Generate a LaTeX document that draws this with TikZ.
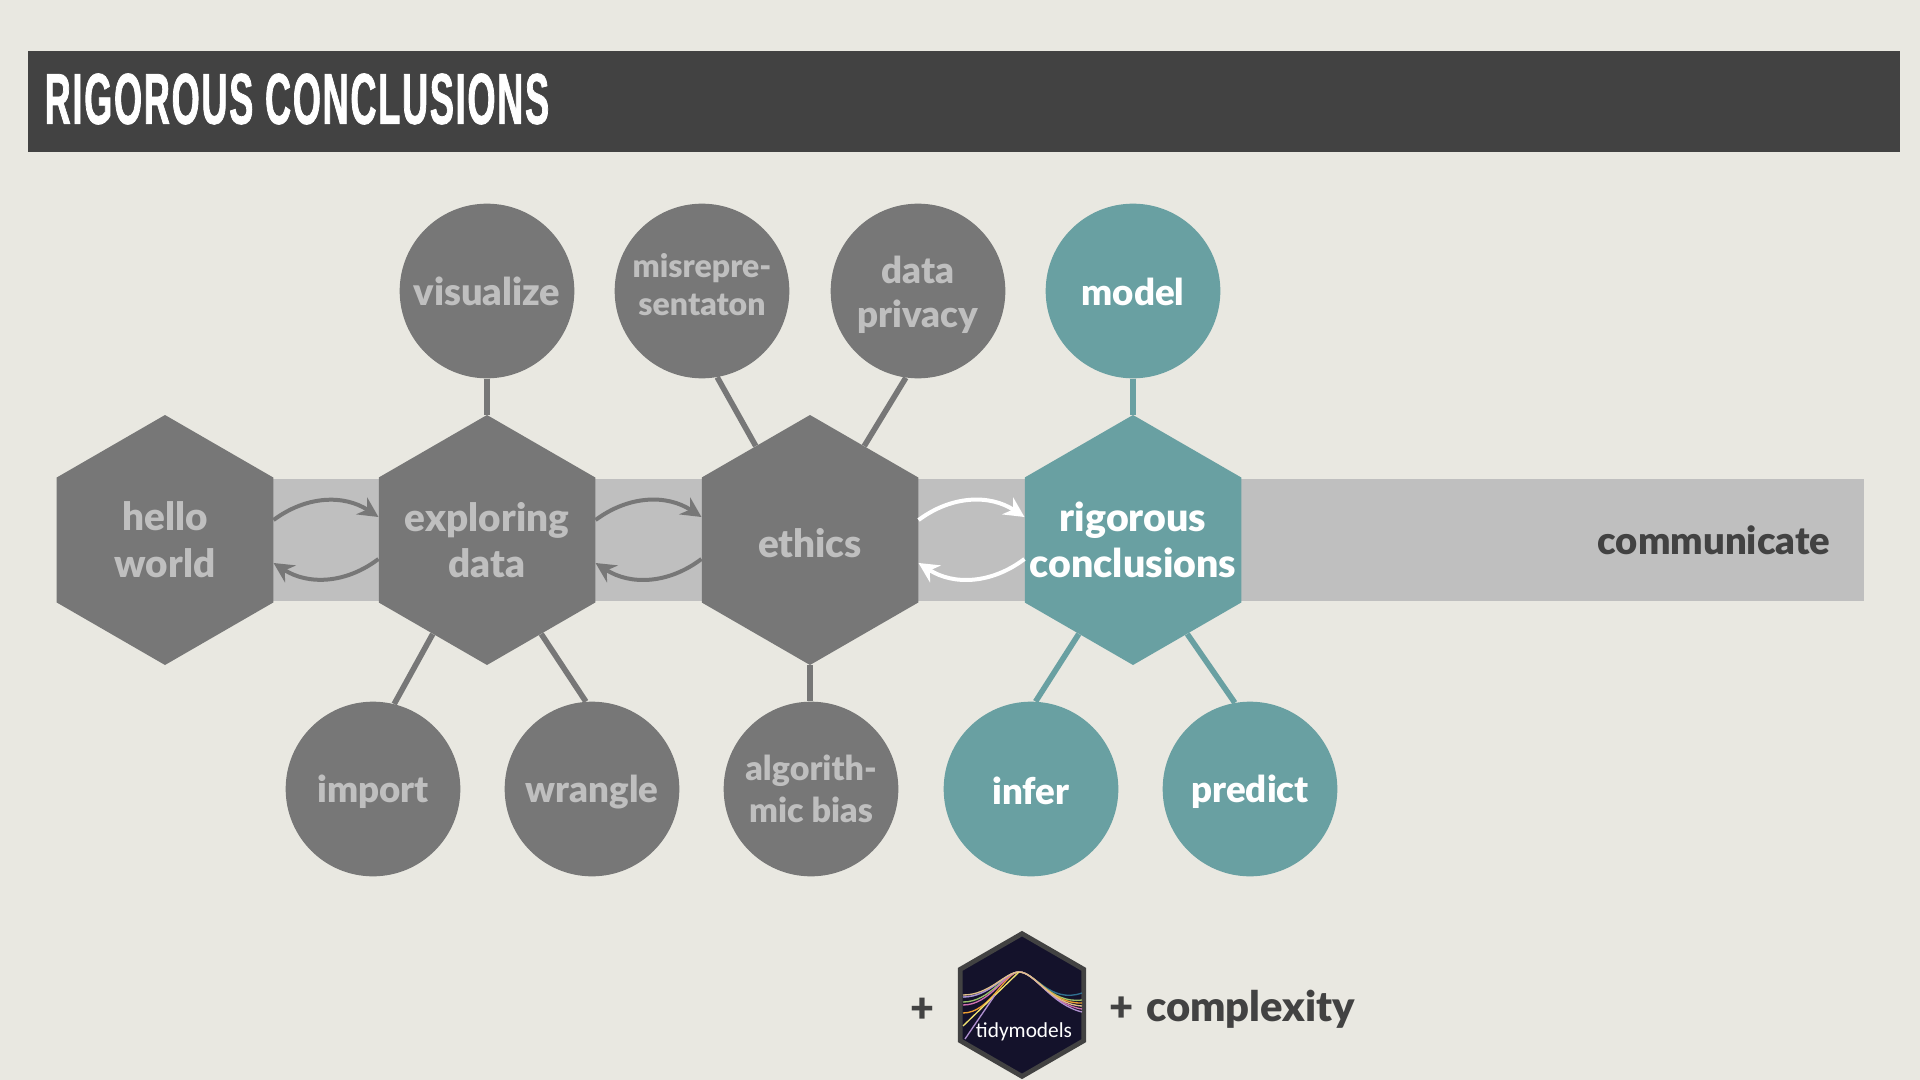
\documentclass[tikz,border=0pt]{standalone}
\usepackage{fontspec}
\setmainfont{Lato}[BoldFont={Lato Black}]
\newfontfamily\headfont[FakeStretch=0.5,LetterSpace=2.5,FakeBold=1]{Liberation Sans}
\newfontfamily\logofont{Carlito}
\usepackage{tikz}
\usetikzlibrary{shapes.geometric,arrows.meta,calc}
\definecolor{paper}{HTML}{E9E8E1}
\definecolor{slate}{HTML}{424242}
\definecolor{hexgray}{HTML}{777777}
\definecolor{bandgray}{HTML}{BFBFBF}
\definecolor{teal}{HTML}{69A0A2}
\definecolor{logonavy}{HTML}{14122B}
\definecolor{logotan}{HTML}{E0C08A}
\definecolor{logogreen}{HTML}{9AC26A}
\definecolor{logoblue}{HTML}{2F6F8F}
\definecolor{logoorange}{HTML}{F0A030}
\definecolor{logopink}{HTML}{D070B0}
\definecolor{logoviolet}{HTML}{B090D0}
\definecolor{logoyellow}{HTML}{EEE070}
\newcommand{\hexline}[1]{\makebox[0pt]{#1}}
\tikzset{
  hexnode/.style={regular polygon,regular polygon sides=6,shape border rotate=30,minimum size=187.5pt,inner sep=0pt,fill=hexgray,text=bandgray,align=center,font=\bfseries\fontsize{29}{35}\selectfont,execute at begin node={\rule{0pt}{26pt}}},
  bubble/.style={circle,minimum size=131pt,inner sep=0pt,fill=hexgray,text=bandgray,align=center,font=\bfseries\fontsize{27.5}{33}\selectfont},
  oneline/.style={execute at begin node={\rule[-2.5pt]{0pt}{27.5pt}}},
  active/.style={fill=teal,text=white},
  spoke/.style={draw=hexgray,line width=4.2pt},
  swing/.style={line width=3pt,-{Stealth[length=15pt,width=15pt]}},
}
\begin{document}
\begin{tikzpicture}[x=0.75pt,y=-0.75pt]
\useasboundingbox (0,0) rectangle (1920,1080);
\fill[paper] (0,0) rectangle (1920,1080);
\fill[slate] (28,51) rectangle (1900,152);
\node[anchor=west,text=white,font=\headfont\bfseries\fontsize{54}{60}\selectfont] (title) at (40,99) {RIGOROUS CONCLUSIONS};
\fill[bandgray] (273,479) rectangle (1864,601);
\node[text=slate,font=\bfseries\fontsize{28.7}{34}\selectfont] (communicate) at (1714,540) {communicate};
% main row
\node[hexnode] (hello) at (165,540) {hello\\world};
\node[hexnode] (exploring) at (487,540) {\hexline{exploring}\\\hexline{data}};
\node[hexnode] (ethics) at (810,540) {ethics};
\node[hexnode,active,font=\bfseries\fontsize{29.5}{35}\selectfont] (rigorous) at (1133,540) {\hexline{rigorous}\\\hexline{conclusions}};
% topics
\node[bubble,oneline,font=\bfseries\fontsize{28.5}{33}\selectfont] (visualize) at (487,291) {visualize};
\node[bubble,font=\bfseries\fontsize{24}{29}\selectfont] (misrepre) at (702,291) {misrepre-\\sentaton\rule[-10pt]{0pt}{0pt}};
\node[bubble] (privacy) at (918,291) {\rule{0pt}{26pt}data\\privacy};
\node[bubble,active,oneline] (model) at (1133,291) {model};
\node[bubble,oneline] (import) at (373,789) {import};
\node[bubble,oneline] (wrangle) at (592,789) {wrangle};
\node[bubble,font=\bfseries\fontsize{25.5}{31}\selectfont] (algorithmic) at (811,789) {algorith-\\mic bias};
\node[bubble,active,oneline] (infer) at (1031,789) {infer};
\node[bubble,active,oneline] (predict) at (1250,789) {predict};
% spokes
\draw[spoke] (visualize) -- (exploring.corner 1);
\draw[spoke] (misrepre.-80) -- (ethics.side 1);
\draw[spoke] (privacy.-98) -- (ethics.side 6);
\draw[spoke,draw=teal] (model) -- (rigorous.corner 1);
\draw[spoke] (import.76) -- (exploring.side 3);
\draw[spoke] (wrangle.94) -- (exploring.side 4);
\draw[spoke] (ethics.corner 4) -- (ethics.corner 4 |- algorithmic.north);
\draw[spoke,draw=teal] (infer.87) -- (rigorous.side 3);
\draw[spoke,draw=teal] (predict.100) -- (rigorous.side 4);
% back and forth
\foreach \from/\to/\col in {hello/exploring/hexgray,exploring/ethics/hexgray,ethics/rigorous/white} {
  \draw[swing,draw=\col] ($(\from.east)+(0,-20)$) to[bend left=35] ($(\to.west)+(0,-23)$);
  \draw[swing,draw=\col] ($(\to.west)+(0,19)$) to[bend left=35] ($(\from.east)+(0,23)$);
}
% bottom line
\node[text=slate,font=\bfseries\fontsize{31}{34}\selectfont] (plusleft) at (922,1010) {+};
\node[regular polygon,regular polygon sides=6,shape border rotate=30,minimum size=107pt,inner sep=0pt,draw=slate,line width=3.6pt,fill=logonavy] (tidy) at (1022,1005) {};
\foreach \yl/\yr/\col in {997/993/logoblue,1002/1000/logogreen,1013/1003/logoorange,1005/1009/logopink,997/1012/logoviolet,995/1006/logotan} {
  \draw[\col,line width=1pt] (963,\yl) .. controls (990,\yl) and (1005,972) .. (1019,972) .. controls (1035,972) and (1050,1004) .. (1082,\yr);
}
\draw[logoyellow,line width=1pt] (1019,972) -- (963,1026);
\draw[logoviolet,line width=1pt] (995,995) -- (965,1039);
\node[text=white,font=\logofont\fontsize{16}{20}\selectfont] (tidyname) at (1024,1032) {tidymodels};
\node[anchor=west,text=slate,font=\bfseries\fontsize{31.3}{36}\selectfont] (complexity) at (1105,1009) {+\hspace{2pt} complexity};
\end{tikzpicture}
\end{document}
